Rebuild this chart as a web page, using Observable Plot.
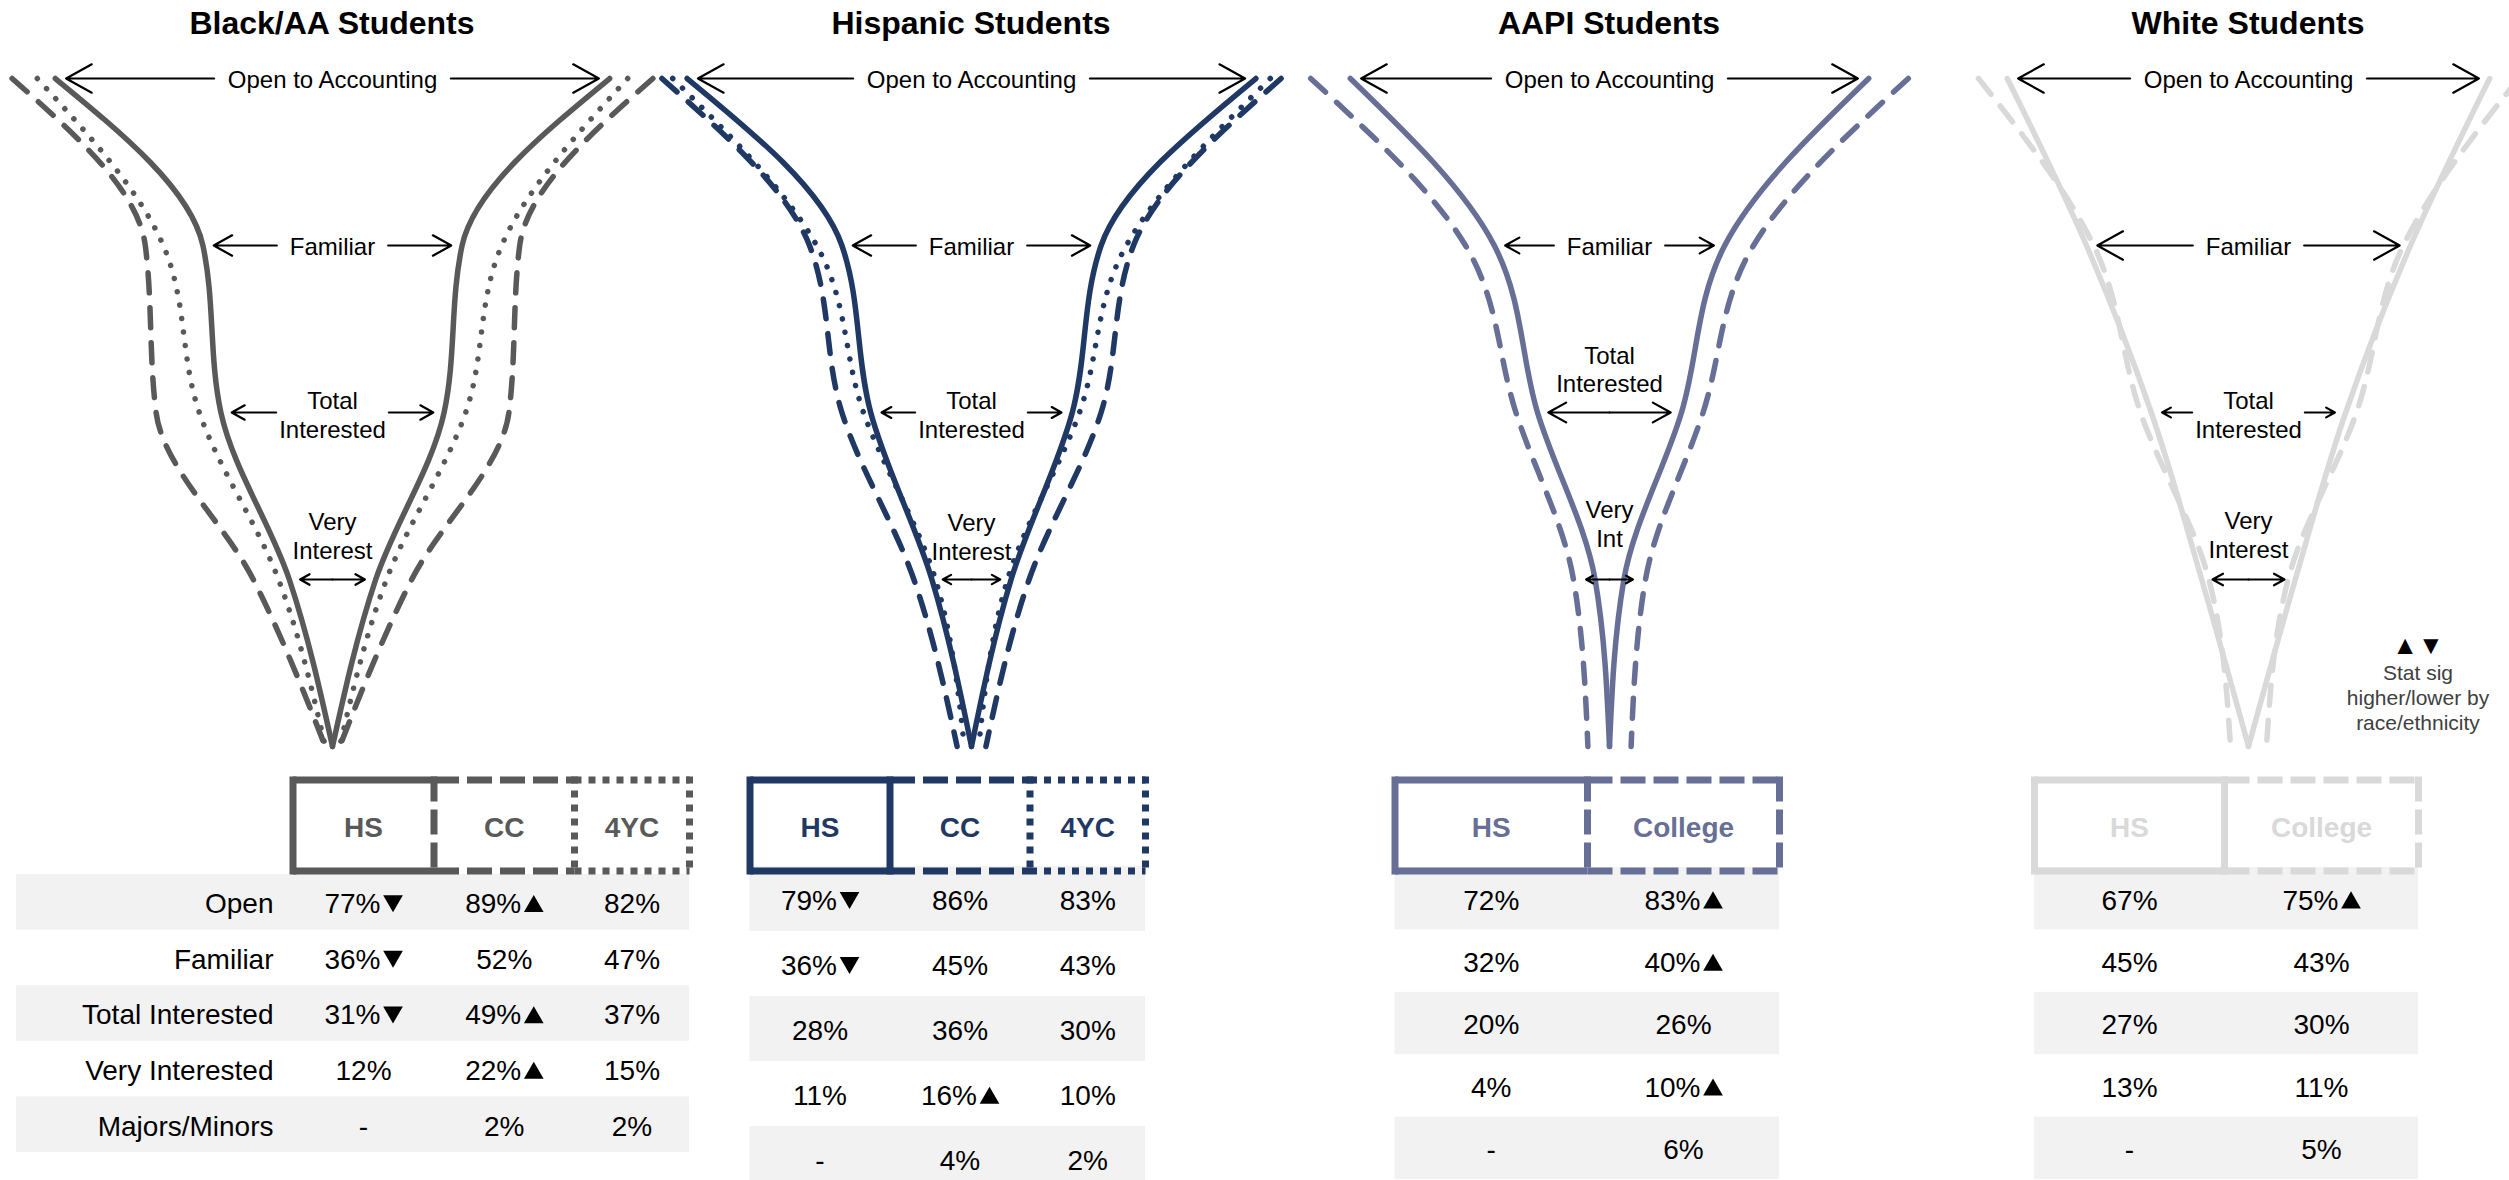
<!DOCTYPE html>
<html>
<head>
<meta charset="utf-8">
<script src="https://cdn.jsdelivr.net/npm/d3@7"></script>
<script src="https://cdn.jsdelivr.net/npm/@observablehq/plot@0.6"></script>
<style>
  body { margin: 0; background: #fff; font-family: "Liberation Sans", Arial, sans-serif; }
  #chart { position: relative; width: 2509px; height: 1180px; overflow: hidden; background: #fff; }
  .abs { position: absolute; }
  .abs svg { overflow: visible; max-width: none; }
  .panel-title { position: absolute; top: 7px; width: 640px; text-align: center; font-weight: bold;
                 font-size: 32px; line-height: 32px; color: #000; }
  .note { position: absolute; width: 220px; text-align: center; color: #404040; font-size: 21px; line-height: 25px; }
</style>
</head>
<body>
<div id="chart"></div>
<script>
// ---------- data ----------
const groups = ["Black/AA Students", "Hispanic Students", "AAPI Students", "White Students"];
const stages = ["Open", "Familiar", "Total Interested", "Very Interested", "Majors/Minors"];
const funnelText = [
  ["Open to Accounting", "Familiar", "Total\nInterested", "Very\nInterest"],
  ["Open to Accounting", "Familiar", "Total\nInterested", "Very\nInterest"],
  ["Open to Accounting", "Familiar", "Total\nInterested", "Very\nInt"],
  ["Open to Accounting", "Familiar", "Total\nInterested", "Very\nInterest"]
];

// null = not asked of that group (shown as "-")
const blackSegments = ["HS", "CC", "4YC"];
const blackHS = [77, 36, 31, 12, null];
const blackCC = [89, 52, 49, 22, 2];
const black4YC = [82, 47, 37, 15, 2];
const blackHSSig = ["down", "down", "down", "", ""];
const blackCCSig = ["up", "", "up", "up", ""];
const black4YCSig = ["", "", "", "", ""];

const hispanicSegments = ["HS", "CC", "4YC"];
const hispanicHS = [79, 36, 28, 11, null];
const hispanicCC = [86, 45, 36, 16, 4];
const hispanic4YC = [83, 43, 30, 10, 2];
const hispanicHSSig = ["down", "down", "", "", ""];
const hispanicCCSig = ["", "", "", "up", ""];
const hispanic4YCSig = ["", "", "", "", ""];

const aapiSegments = ["HS", "College"];
const aapiHS = [72, 32, 20, 4, null];
const aapiCollege = [83, 40, 26, 10, 6];
const aapiHSSig = ["", "", "", "", ""];
const aapiCollegeSig = ["up", "up", "", "up", ""];

const whiteSegments = ["HS", "College"];
const whiteHS = [67, 45, 27, 13, null];
const whiteCollege = [75, 43, 30, 11, 5];
const whiteHSSig = ["", "", "", "", ""];
const whiteCollegeSig = ["up", "", "", "", ""];

// ---------- styling & layout ----------
const groupColors = ["#595959", "#1F3864", "#676F96", "#D9D9D9"];
const segmentStyles = [
  ["solid", "dashed", "dotted"],
  ["solid", "dashed", "dotted"],
  ["solid", "dashed"],
  ["solid", "dashed"]
];
const panels = [
  {segments: blackSegments, series: [blackHS, blackCC, black4YC], sig: [blackHSSig, blackCCSig, black4YCSig]},
  {segments: hispanicSegments, series: [hispanicHS, hispanicCC, hispanic4YC], sig: [hispanicHSSig, hispanicCCSig, hispanic4YCSig]},
  {segments: aapiSegments, series: [aapiHS, aapiCollege], sig: [aapiHSSig, aapiCollegeSig]},
  {segments: whiteSegments, series: [whiteHS, whiteCollege], sig: [whiteHSSig, whiteCollegeSig]}
].map((p, i) => ({...p, title: groups[i], color: groupColors[i], styles: segmentStyles[i]}));

const K = 3.6;                 // px of half-width per percentage point
const PANEL_W = 640;
const FUNNEL_H = 760;
const panelCenters = [332, 971, 1609, 2248];
const funnelRange = [77.5, 747];
// vertical offset of each stage label relative to its arrow
const labelPlacement = [
  [0, 0, 2, -44],
  [0, 0, 2, -43],
  [0, 0, -43.5, -56],
  [0, 0, 2, -45]
];
// true: label sits on the arrow, which is split around it
const labelInline = [
  [true, true, true, false],
  [true, true, true, false],
  [true, true, false, false],
  [true, true, true, false]
];
const lineStyle = {
  solid: {},
  dashed: {strokeDasharray: "20 15", strokeLinecap: "round"},
  dotted: {strokeDasharray: "0.1 13.5", strokeLinecap: "round"}
};
const boxStyle = {
  solid: {},
  dashed: {strokeDasharray: "25 8"},
  dotted: {strokeDasharray: "7 7"}
};
const tableLayouts = [
  {edges: [292.5, 433.5, 574, 689], edgeStyles: ["solid", "dashed", "dotted", "dotted"], bandLeft: 16, rowRange: [874, 1152], labelX: 273},
  {edges: [749.5, 889.5, 1029.5, 1145], edgeStyles: ["solid", "solid", "dotted", "dotted"], bandLeft: 749.5, rowRange: [866, 1191]},
  {edges: [1394.5, 1587, 1779], edgeStyles: ["solid", "dashed", "dashed"], bandLeft: 1394.5, rowRange: [867, 1179]},
  {edges: [2034, 2224, 2418], edgeStyles: ["solid", "solid", "dashed"], bandLeft: 2034, rowRange: [867, 1179]}
];
const BOX_TOP = 779.5, BOX_BOTTOM = 870.5, BOX_W = 7;
const CELL_FONT = 28, TRI_W = 19, TRI_GAP = 3;
const FONT = "'Liberation Sans', Arial, sans-serif";

const chart = document.getElementById("chart");
const ctx = document.createElement("canvas").getContext("2d");
const measure = (t, size) => { ctx.font = size + "px 'Liberation Sans'"; return ctx.measureText(t).width; };
const textHalf = (t) => d3.max(t.split("\n"), (l) => measure(l, 24)) / 2;

function place(node, left, top, width) {
  const div = document.createElement("div");
  div.className = "abs";
  div.style.left = left + "px";
  div.style.top = top + "px";
  div.style.width = width + "px";
  div.appendChild(node);
  chart.appendChild(div);
  return div;
}

// ---------- funnels ----------
panels.forEach((p, i) => {
  const title = document.createElement("div");
  title.className = "panel-title";
  title.style.left = (panelCenters[i] - PANEL_W / 2) + "px";
  title.textContent = p.title;
  chart.appendChild(title);

  const pts = [];
  p.series.forEach((vals, j) => {
    for (const side of [-1, 1]) {
      vals.forEach((v, s) => pts.push({key: j + ":" + side, style: p.styles[j], stage: stages[s], x: side * (v ?? 0)}));
    }
  });

  const hs = p.series[0];
  const arrows = [];
  const labelMarks = [];
  funnelText[i].forEach((label, s) => {
    const half = Math.max(hs[s] - 3, 6.5);
    const inline = labelInline[i][s];
    const gap = inline ? (textHalf(label) + (label.includes("\n") ? 3 : 13)) / K : 0;
    for (const side of [-1, 1]) arrows.push({stage: stages[s], x1: side * gap, x2: side * half});
    labelMarks.push(Plot.text([{stage: stages[s], label}], {
      x: () => 0, y: "stage", text: "label", dy: labelPlacement[i][s],
      fontSize: 24, lineHeight: 1.18, fill: "#000", lineAnchor: "middle"
    }));
  });

  const lineMarks = ["dotted", "dashed", "solid"].map((st) =>
    Plot.line(pts.filter((d) => d.style === st), {
      x: "x", y: "stage", z: "key", stroke: p.color, strokeWidth: 5.5,
      curve: "monotone-y", ...lineStyle[st]
    })
  );

  const svg = Plot.plot({
    width: PANEL_W,
    height: FUNNEL_H,
    margin: 0,
    style: {fontFamily: FONT, background: "transparent", overflow: "visible"},
    x: {domain: [-PANEL_W / 2 / K, PANEL_W / 2 / K], axis: null},
    y: {type: "point", domain: stages, range: funnelRange, padding: 0, axis: null},
    marks: [
      ...lineMarks,
      Plot.arrow(arrows, {x1: "x1", x2: "x2", y1: "stage", y2: "stage", stroke: "#000",
        strokeWidth: 2.2, headLength: 20, headAngle: 58}),
      ...labelMarks
    ]
  });
  place(svg, panelCenters[i] - PANEL_W / 2, 0, PANEL_W);
});

// ---------- tables ----------
const bands = [], boxH = [], boxV = [], headers = [], cells = [], rowLabels = [], flags = [];
panels.forEach((p, i) => {
  const L = tableLayouts[i];
  const band = d3.scaleBand().domain(stages).range(L.rowRange).paddingInner(0).paddingOuter(0);
  const right = L.edges[L.edges.length - 1];
  const rowY = (st) => band(st) + band.bandwidth() / 2 + 2;
  stages.forEach((st, r) => {
    if (r % 2 === 0) bands.push({x1: L.bandLeft, x2: right, y1: band(st), y2: band(st) + band.bandwidth()});
    if (i === 0) rowLabels.push({x: L.labelX, y: rowY(st), text: st});
  });
  p.segments.forEach((seg, j) => {
    const x1 = L.edges[j], x2 = L.edges[j + 1], mid = (x1 + x2) / 2;
    for (const y of [BOX_TOP, BOX_BOTTOM]) boxH.push({x1, x2, y, style: p.styles[j], color: p.color});
    headers.push({x: mid, y: 827.5, text: seg, color: p.color});
    p.series[j].forEach((v, r) => {
      const text = v == null ? "-" : v + "%";
      const sig = p.sig[j][r];
      const y = rowY(stages[r]);
      if (!sig) {
        cells.push({x: mid, y, text, anchor: "middle"});
      } else {
        // number and significance triangle centred together in the column
        const w = measure(text, CELL_FONT);
        const start = mid - (w + TRI_GAP + TRI_W) / 2;
        cells.push({x: start, y, text, anchor: "start"});
        flags.push({x: start + w + TRI_GAP + TRI_W / 2, y: y + (sig === "up" ? 2 : -3.4), dir: sig});
      }
    });
  });
  L.edges.forEach((x, e) => boxV.push({x, style: L.edgeStyles[e], color: p.color}));
});

const tableSvg = Plot.plot({
  width: 2509,
  height: 420,
  margin: 0,
  style: {fontFamily: FONT, background: "transparent", overflow: "visible"},
  x: {domain: [0, 2509], range: [0, 2509], axis: null},
  y: {domain: [760, 1180], range: [0, 420], axis: null},
  color: {type: "identity"},
  marks: [
    Plot.rect(bands, {x1: "x1", x2: "x2", y1: "y1", y2: "y2", fill: "#F2F2F2"}),
    ...["solid", "dashed", "dotted"].map((st) =>
      Plot.link(boxH.filter((d) => d.style === st), {
        x1: "x1", x2: "x2", y1: "y", y2: "y", stroke: "color", strokeWidth: BOX_W, ...boxStyle[st]
      })
    ),
    ...["solid", "dashed", "dotted"].map((st) =>
      Plot.link(boxV.filter((d) => d.style === st), {
        x1: "x", x2: "x", y1: () => BOX_TOP - BOX_W / 2, y2: () => BOX_BOTTOM + BOX_W / 2,
        stroke: "color", strokeWidth: BOX_W, ...boxStyle[st]
      })
    ),
    Plot.text(headers, {x: "x", y: "y", text: "text", fill: "color", fontWeight: "bold", fontSize: 28}),
    Plot.text(rowLabels, {x: "x", y: "y", text: "text", fill: "#000", fontSize: CELL_FONT, textAnchor: "end"}),
    Plot.text(cells.filter((d) => d.anchor === "middle"), {x: "x", y: "y", text: "text", fill: "#000", fontSize: CELL_FONT}),
    Plot.text(cells.filter((d) => d.anchor === "start"), {x: "x", y: "y", text: "text", fill: "#000", fontSize: CELL_FONT, textAnchor: "start"}),
    Plot.dot(flags.filter((d) => d.dir === "up"), {x: "x", y: "y", symbol: "triangle", r: 7.3, fill: "#000", stroke: null}),
    Plot.dot(flags.filter((d) => d.dir === "down"), {x: "x", y: "y", symbol: "triangle", r: 7.3, fill: "#000", stroke: null, rotate: 180})
  ]
});
place(tableSvg, 0, 760, 2509);

// ---------- significance note ----------
const marks = document.createElement("div");
marks.className = "note";
marks.style.left = (2418 - 110) + "px";
marks.style.top = "630px";
marks.style.color = "#000";
marks.style.fontSize = "26px";
marks.style.lineHeight = "30px";
marks.textContent = "▲▼";
chart.appendChild(marks);

const note = document.createElement("div");
note.className = "note";
note.style.left = (2418 - 110) + "px";
note.style.top = "660px";
note.innerHTML = "Stat sig<br>higher/lower by<br>race/ethnicity";
chart.appendChild(note);
</script>
</body>
</html>
